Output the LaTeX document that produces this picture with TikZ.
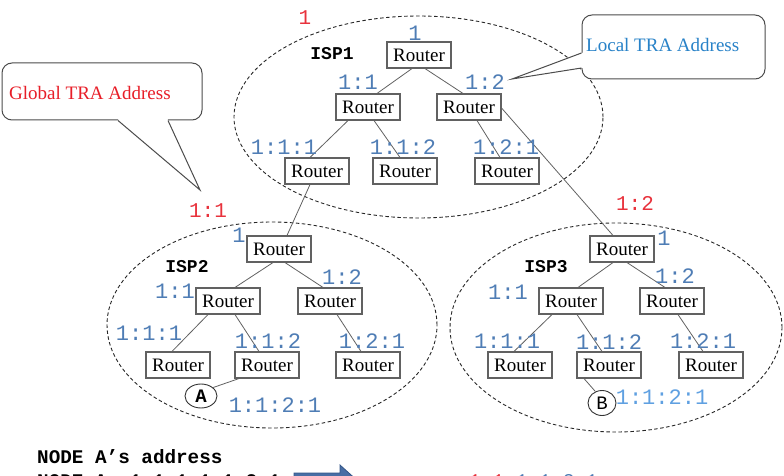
\documentclass[tikz,border=0pt]{standalone}
\usepackage{fontspec}
\setmainfont{Liberation Serif}
\setmonofont{Liberation Mono}
\usetikzlibrary{shapes.geometric}
\definecolor{lbl}{RGB}{79,125,181}
\definecolor{lbllight}{RGB}{95,160,225}
\definecolor{gred}{RGB}{232,50,60}
\definecolor{gtext}{RGB}{232,30,40}
\definecolor{ltext}{RGB}{40,130,200}
\definecolor{arrfill}{RGB}{72,110,165}
\definecolor{arrdraw}{RGB}{50,85,135}
\begin{document}
\begin{tikzpicture}[x=1pt,y=-1pt,
  router/.style={draw=black!62, line width=1.1pt, fill=white, minimum width=64pt, minimum height=26pt, inner sep=0pt, font=\fontsize{19}{19}\selectfont},
  link/.style={draw=black!62, line width=0.8pt},
  ispline/.style={draw=black!85, line width=0.9pt, dash pattern=on 3.5pt off 2.5pt},
  addr/.style={inner sep=0pt, text=lbl, font=\ttfamily\fontsize{22}{22}\selectfont},
  gaddr/.style={inner sep=0pt, text=gred, font=\ttfamily\fontsize{21}{21}\selectfont},
  isplbl/.style={inner sep=0pt, font=\ttfamily\bfseries\fontsize{18}{18}\selectfont},
  callbox/.style={draw=black!70, line width=1pt, fill=white, rounded corners=10pt, inner sep=0pt},
  calline/.style={draw=black!70, line width=1pt},
  endnode/.style={draw=black!80, line width=0.9pt, ellipse, fill=white, inner sep=0pt}
]
\useasboundingbox (0,0) rectangle (784,476);
\clip (0,0) rectangle (784,476);

% ISP areas
\draw[ispline] (418.5,117) ellipse [x radius=184.5pt, y radius=101pt];
\draw[ispline] (272,325) ellipse [x radius=165pt, y radius=103pt];
\draw[ispline] (616,327.5) ellipse [x radius=166pt, y radius=104.5pt];

% Global callout
\node[callbox, minimum width=200pt, minimum height=57pt] (gbox) at (102,91.5) {};
\coordinate (gtip) at (200,190);
\fill[white] ([xshift=16.5pt,yshift=2pt]gbox.south) -- ([xshift=65.5pt,yshift=2pt]gbox.south) -- ([xshift=66pt]gbox.south) -- (gtip) -- ([xshift=16pt]gbox.south) -- cycle;
\draw[calline] ([xshift=16pt]gbox.south) -- (gtip) -- ([xshift=66pt]gbox.south);
\node[anchor=west, inner sep=0pt, text=gtext, font=\fontsize{19}{19}\selectfont] (gtxt) at (9,93) {Global TRA Address};

% Local callout
\node[callbox, minimum width=183pt, minimum height=64pt] (lbox) at (673.5,47) {};
\coordinate (ltip) at (512,79);
\fill[white] ([xshift=2pt,yshift=-5.5pt]lbox.west) -- ([xshift=2pt,yshift=-21.5pt]lbox.west) -- ([yshift=-21pt]lbox.west) -- (ltip) -- ([yshift=-6pt]lbox.west) -- cycle;
\draw[calline] ([yshift=-6pt]lbox.west) -- (ltip) -- ([yshift=-21pt]lbox.west);
\node[anchor=west, inner sep=0pt, text=ltext, font=\fontsize{19}{19}\selectfont] (ltxt) at (586,45) {Local TRA Address};

% Routers ISP1
\node[router] (r1) at (419,55) {Router};
\node[router] (r1l) at (368,107) {Router};
\node[router] (r1r) at (469,107) {Router};
\node[router] (r1ll) at (317,171) {Router};
\node[router] (r1lr) at (405,171) {Router};
\node[router] (r1rl) at (507,171) {Router};
% Routers ISP2
\node[router] (r2) at (279,249) {Router};
\node[router] (r2l) at (228,301) {Router};
\node[router] (r2r) at (330,301) {Router};
\node[router] (r2ll) at (178,365) {Router};
\node[router] (r2lr) at (267,365) {Router};
\node[router] (r2rl) at (368,365) {Router};
% Routers ISP3
\node[router] (r3) at (622,249) {Router};
\node[router] (r3l) at (571,301) {Router};
\node[router] (r3r) at (672,301) {Router};
\node[router] (r3ll) at (520,365) {Router};
\node[router] (r3lr) at (609,365) {Router};
\node[router] (r3rl) at (711,365) {Router};

% end nodes
\node[endnode, minimum width=32pt, minimum height=24pt, font=\ttfamily\bfseries\fontsize{19}{19}\selectfont] (nA) at (201,396) {A};
\node[endnode, minimum width=28pt, minimum height=25pt, font=\ttfamily\fontsize{19}{19}\selectfont] (nB) at (602,403) {B};

% Links ISP1
\draw[link] ([xshift=-7pt]r1.south) -- ([xshift=9pt]r1l.north);
\draw[link] ([xshift=6pt]r1.south) -- ([xshift=-6pt]r1r.north);
\draw[link] ([xshift=-20pt]r1l.south) -- ([xshift=-7pt]r1ll.north);
\draw[link] ([xshift=6pt]r1l.south) -- ([xshift=-5pt]r1lr.north);
\draw[link] ([xshift=8pt]r1r.south) -- ([xshift=-7pt]r1rl.north);
% inter-ISP links
\draw[link] ([xshift=-7pt]r1ll.south) -- ([xshift=8pt]r2.north);
\draw[link] ([yshift=-1pt]r1r.east) -- ([xshift=-9pt]r3.north);
% Links ISP2
\draw[link] ([xshift=-6pt]r2.south) -- ([xshift=7pt]r2l.north);
\draw[link] ([xshift=6pt]r2.south) -- ([xshift=-7pt]r2r.north);
\draw[link] ([xshift=-20pt]r2l.south) -- ([xshift=-6pt]r2ll.north);
\draw[link] ([xshift=7pt]r2l.south) -- ([xshift=-8pt]r2lr.north);
\draw[link] ([xshift=7pt]r2r.south) -- ([xshift=-7pt]r2rl.north);
\draw[link] ([xshift=-28pt]r2lr.south) -- (nA.35);
% Links ISP3
\draw[link] ([xshift=-9pt]r3.south) -- ([xshift=7pt]r3l.north);
\draw[link] ([xshift=5pt]r3.south) -- ([xshift=-7pt]r3r.north);
\draw[link] ([xshift=-19pt]r3l.south) -- ([xshift=-6pt]r3ll.north);
\draw[link] ([xshift=6pt]r3l.south) -- ([xshift=-7pt]r3lr.north);
\draw[link] ([xshift=6pt]r3r.south) -- ([xshift=-8pt]r3rl.north);
\draw[link] ([xshift=-25pt]r3lr.south) -- (nB.120);

% labels ISP1
\node[isplbl] (isp1) at (332,54) {ISP1};
\node[addr] (a1) at (415,33) {1};
\node[addr] (a11) at (358,82) {1:1};
\node[addr] (a12) at (485,82) {1:2};
\node[addr] (a111) at (284,147) {1:1:1};
\node[addr] (a112) at (403,147) {1:1:2};
\node[addr] (a121) at (506,147) {1:2:1};
% global labels
\node[gaddr] (g1) at (305,18) {1};
\node[gaddr] (g11) at (208,211) {1:1};
\node[gaddr] (g12) at (635,203) {1:2};
% labels ISP2
\node[isplbl] (isp2) at (187,267) {ISP2};
\node[addr] (b1) at (239,235) {1};
\node[addr] (b11) at (175,291) {1:1};
\node[addr] (b12) at (342,277) {1:2};
\node[addr] (b111) at (149,333) {1:1:1};
\node[addr] (b112) at (268,341) {1:1:2};
\node[addr] (b121) at (372,341) {1:2:1};
\node[addr] (b1121) at (275,405) {1:1:2:1};
% labels ISP3
\node[isplbl] (isp3) at (546,267) {ISP3};
\node[addr] (c1) at (664,238) {1};
\node[addr] (c11) at (508,292) {1:1};
\node[addr] (c12) at (675,276) {1:2};
\node[addr] (c111) at (507,341) {1:1:1};
\node[addr] (c112) at (609,342) {1:1:2};
\node[addr] (c121) at (703,341) {1:2:1};
\node[addr, text=lbllight] (c1121) at (662,397) {1:1:2:1};

% bottom text (cut off by the lower edge, as in the reference)
\node[anchor=base west, inner sep=0pt, font=\ttfamily\bfseries\fontsize{19.3}{19}\selectfont] (txt1) at (37,463) {NODE A’s address};
\node[anchor=base west, inner sep=0pt, font=\ttfamily\bfseries\fontsize{19.3}{19}\selectfont] (txt2) at (37,487) {NODE A: 1:1:1:1:1:2:1};
\fill[arrfill, draw=arrdraw, line width=0.8pt] (294,473) -- (340,473) -- (340,465) -- (360,483) -- (340,501) -- (340,493) -- (294,493) -- cycle;
\node[anchor=base west, inner sep=0pt, font=\ttfamily\fontsize{19.5}{19}\selectfont] (txt3) at (469,487) {\textcolor{gred}{1:1:}\textcolor{lbl}{1:1:2:1}};
\end{tikzpicture}
\end{document}
